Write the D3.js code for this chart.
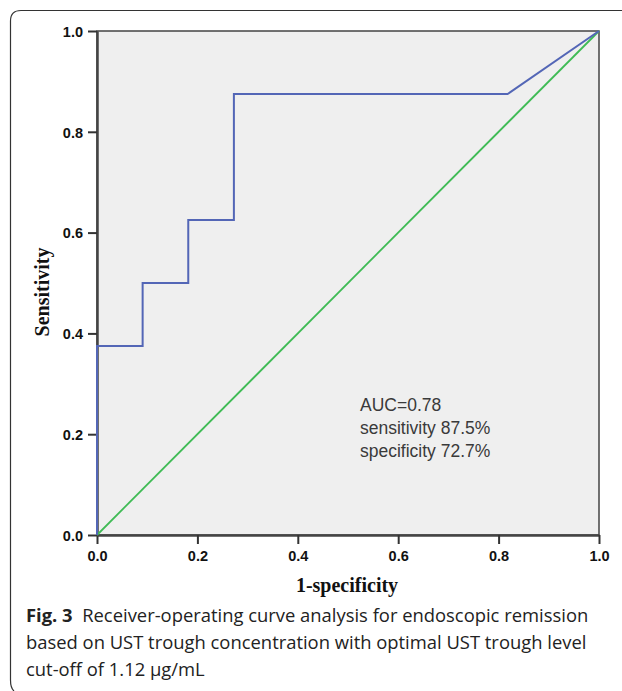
<!DOCTYPE html>
<html>
<head>
<meta charset="utf-8">
<script src="https://cdn.jsdelivr.net/npm/d3@7"></script>
<style>
  body { margin: 0; background: #fff; }
  svg { display: block; }
</style>
</head>
<body>
<script>
// ROC curve points (1-specificity, sensitivity)
var fpr = [0, 0, 0.0909, 0.0909, 0.1818, 0.1818, 0.2727, 0.2727, 0.818, 1];
var tpr = [0, 0.375, 0.375, 0.5, 0.5, 0.625, 0.625, 0.875, 0.875, 1];
var refLine = [0, 1];
var ticks = [0, 0.2, 0.4, 0.6, 0.8, 1.0];
var statLines = ['AUC=0.78', 'sensitivity 87.5%', 'specificity 72.7%'];
var captionBold = 'Fig. 3';
var captionLines = [
  '  Receiver-operating curve analysis for endoscopic remission',
  'based on UST trough concentration with optimal UST trough level',
  'cut-off of 1.12 \u00b5g/mL'
];

(function() {
  var W = 622, H = 691;
  var svg = d3.select('body').append('svg')
    .attr('width', W)
    .attr('height', H);

  // outer frame (top + left with rounded corners)
  svg.append('path')
    .attr('d', 'M622,10.5 L21,10.5 Q10.5,10.5 10.5,21 L10.5,680 Q10.5,688 14,691')
    .attr('fill', 'none')
    .attr('stroke', '#333')
    .attr('stroke-width', 1.2);

  var pL = 97, pR = 599, pT = 31, pB = 535;

  var x = d3.scaleLinear().domain([0, 1]).range([pL, pR]);
  var y = d3.scaleLinear().domain([0, 1]).range([pB, pT]);

  // plot background
  svg.append('rect')
    .attr('x', pL).attr('y', pT)
    .attr('width', pR - pL).attr('height', pB - pT)
    .attr('fill', '#efefef')
    .attr('stroke', '#444')
    .attr('stroke-width', 1.5);

  // axes
  var fmt = d3.format('.1f');
  var xAxis = svg.append('g')
    .attr('transform', 'translate(0,' + pB + ')')
    .call(d3.axisBottom(x).tickValues(ticks).tickFormat(fmt).tickSize(9).tickSizeOuter(0).tickPadding(7));
  var yAxis = svg.append('g')
    .attr('transform', 'translate(' + pL + ',0)')
    .call(d3.axisLeft(y).tickValues(ticks).tickFormat(fmt).tickSize(9).tickSizeOuter(0).tickPadding(5));

  [xAxis, yAxis].forEach(function(a) {
    a.select('.domain').attr('stroke', '#444').attr('stroke-width', 2.5);
    a.selectAll('.tick line').attr('stroke', '#333').attr('stroke-width', 2);
    a.selectAll('.tick text')
      .attr('fill', '#111')
      .style('font-family', 'Liberation Sans, Arial, sans-serif')
      .style('font-size', '14.5px')
      .style('font-weight', 'bold');
  });
  yAxis.selectAll('.tick text').attr('dy', '0.36em');

  // reference diagonal
  svg.append('line')
    .attr('x1', x(refLine[0])).attr('y1', y(refLine[0]))
    .attr('x2', x(refLine[1])).attr('y2', y(refLine[1]))
    .attr('stroke', '#3fbb55')
    .attr('stroke-width', 1.8);

  // ROC curve
  var pts = fpr.map(function(d, i) { return [d, tpr[i]]; });
  var line = d3.line()
    .x(function(d) { return x(d[0]); })
    .y(function(d) { return y(d[1]); });
  svg.append('path')
    .datum(pts)
    .attr('d', line)
    .attr('fill', 'none')
    .attr('stroke', '#5366b6')
    .attr('stroke-width', 2);

  // stats text
  svg.append('g').selectAll('text')
    .data(statLines)
    .enter()
    .append('text')
    .attr('x', 360)
    .attr('y', function(d, i) { return 411 + i * 23; })
    .attr('fill', '#3a3a3a')
    .style('font-family', 'Liberation Sans, Arial, sans-serif')
    .style('font-size', '17.5px')
    .text(function(d) { return d; });

  // axis titles
  svg.append('text')
    .attr('x', 347)
    .attr('y', 592)
    .attr('text-anchor', 'middle')
    .attr('fill', '#111')
    .style('font-family', 'Liberation Serif, Times New Roman, serif')
    .style('font-size', '20px')
    .style('font-weight', 'bold')
    .text('1-specificity');

  svg.append('text')
    .attr('transform', 'translate(49,292) rotate(-90)')
    .attr('text-anchor', 'middle')
    .attr('fill', '#111')
    .style('font-family', 'Liberation Serif, Times New Roman, serif')
    .style('font-size', '20px')
    .style('font-weight', 'bold')
    .text('Sensitivity');

  // caption
  var cap = svg.append('g')
    .style('font-family', 'Open Sans, Noto Sans, sans-serif')
    .style('font-size', '18.4px')
    .attr('fill', '#222');
  var first = cap.append('text').attr('x', 26).attr('y', 622);
  first.append('tspan').style('font-weight', 'bold').text(captionBold);
  first.append('tspan').style('white-space', 'pre').text(captionLines[0]);
  captionLines.slice(1).forEach(function(t, i) {
    cap.append('text')
      .attr('x', 26)
      .attr('y', 649 + i * 27)
      .text(t);
  });
})();
</script>
</body>
</html>
